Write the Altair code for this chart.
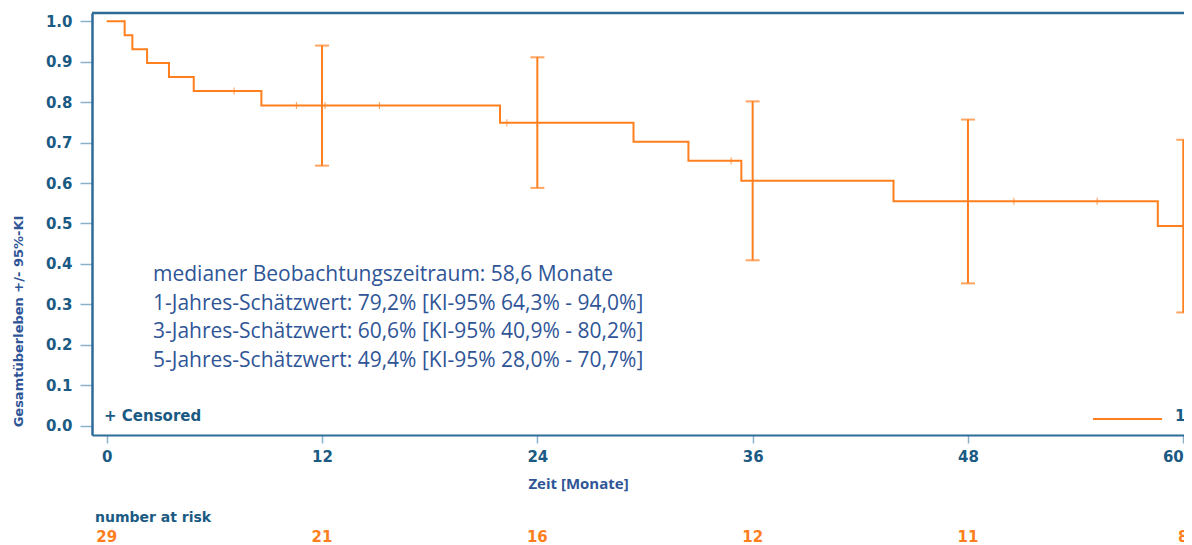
import altair as alt
import pandas as pd

# ---- data ----
step_t = [0, 1.0, 1.43, 2.25, 3.47, 4.85, 8.62, 21.92, 29.36, 32.42, 35.37, 43.85, 58.58, 60.5]
step_s = [1.0, 0.9655, 0.931, 0.8966, 0.8621, 0.8276, 0.7916, 0.749, 0.702, 0.655, 0.606, 0.555, 0.494, 0.494]

cens_t = [7.1, 10.57, 12.17, 15.2, 22.3, 24.0, 34.8, 50.56, 55.2]
cens_s = [0.8276, 0.7916, 0.7916, 0.7916, 0.749, 0.749, 0.655, 0.555, 0.555]

ci_t = [12, 24, 36, 48, 60]
ci_lo = [0.643, 0.588, 0.409, 0.352, 0.280]
ci_hi = [0.940, 0.911, 0.802, 0.757, 0.707]

risk_t = [0, 12, 24, 36, 48, 60]
risk_n = ["29", "21", "16", "12", "11", "8"]

x_ticks = [0, 12, 24, 36, 48, 60]
y_ticks = [0.0, 0.1, 0.2, 0.3, 0.4, 0.5, 0.6, 0.7, 0.8, 0.9, 1.0]

notes = [
    "medianer Beobachtungszeitraum: 58,6 Monate",
    "1-Jahres-Schätzwert: 79,2% [KI-95% 64,3% - 94,0%]",
    "3-Jahres-Schätzwert: 60,6% [KI-95% 40,9% - 80,2%]",
    "5-Jahres-Schätzwert: 49,4% [KI-95% 28,0% - 70,7%]",
]

ORANGE = "#ff7f1e"
AXIS_BLUE = "#1a5a83"
TITLE_BLUE = "#2f5597"
LINE_BLUE = "#2e6b97"
TICK_BLUE = "#8ab0cc"

W, H = 1092, 422

xscale = alt.Scale(domain=[-0.82, 60.04], nice=False, zero=False)
yscale = alt.Scale(domain=[-0.023, 1.0205], nice=False, zero=False)

step_df = pd.DataFrame({"t": step_t, "s": step_s})
cens_df = pd.DataFrame({"t": cens_t, "s": cens_s})
ci_df = pd.DataFrame({"t": ci_t, "lo": ci_lo, "hi": ci_hi})
risk_df = pd.DataFrame({"t": risk_t, "n": risk_n})
one = pd.DataFrame({"a": [0]})

xaxis = alt.Axis(
    values=x_ticks, title="Zeit [Monate]", grid=False,
    labelFont="DejaVu Sans", labelFontSize=15, labelFontWeight="bold", labelColor=AXIS_BLUE,
    labelPadding=6, tickSize=8, tickColor=TICK_BLUE, tickWidth=1.5,
    domainColor=LINE_BLUE, domainWidth=2,
    titleFont="Open Sans", titleFontSize=15, titleFontWeight="bold", titleColor=TITLE_BLUE,
    titleX=486, titleY=53, titleAlign="center", titleBaseline="alphabetic", titleAnchor="start",
)
yaxis = alt.Axis(
    values=y_ticks, format=".1f", title="Gesamtüberleben +/- 95%-KI", grid=False,
    labelFont="DejaVu Sans", labelFontSize=15, labelFontWeight="bold", labelColor=AXIS_BLUE,
    labelPadding=8, tickSize=12, tickColor=TICK_BLUE, tickWidth=1.5,
    domainColor=LINE_BLUE, domainWidth=2.5,
    titleFont="DejaVu Sans", titleFontSize=13, titleFontWeight="bold", titleColor=TITLE_BLUE,
    titleAngle=270, titleX=-74, titleY=308, titleAlign="center", titleBaseline="middle",
    titleAnchor="start",
)

km = alt.Chart(step_df).mark_line(
    interpolate="step-after", color=ORANGE, strokeWidth=2, clip=True
).encode(x=alt.X("t:Q", scale=xscale, axis=xaxis), y=alt.Y("s:Q", scale=yscale, axis=yaxis))

cens = alt.Chart(cens_df).mark_tick(
    orient="vertical", color=ORANGE, size=7, thickness=1, opacity=0.8
).encode(x=alt.X("t:Q", scale=xscale), y=alt.Y("s:Q", scale=yscale))

ci_rule = alt.Chart(ci_df).mark_rule(color=ORANGE, strokeWidth=2).encode(
    x=alt.X("t:Q", scale=xscale), y=alt.Y("lo:Q", scale=yscale), y2="hi:Q"
)
cap_lo = alt.Chart(ci_df).mark_tick(orient="horizontal", color=ORANGE, size=14, thickness=2).encode(
    x=alt.X("t:Q", scale=xscale), y=alt.Y("lo:Q", scale=yscale)
)
cap_hi = alt.Chart(ci_df).mark_tick(orient="horizontal", color=ORANGE, size=14, thickness=2).encode(
    x=alt.X("t:Q", scale=xscale), y=alt.Y("hi:Q", scale=yscale)
)

top_border = alt.Chart(one).mark_rule(color=LINE_BLUE, strokeWidth=2.5).encode(
    x=alt.value(0), x2=alt.value(W), y=alt.value(0)
)

note_text = alt.Chart(one).mark_text(
    align="left", baseline="alphabetic", font="Open Sans", fontSize=21, color=TITLE_BLUE,
    lineHeight=28.7,
).encode(x=alt.value(61), y=alt.value(268), text=alt.value(notes))

risk_text = alt.Chart(risk_df).mark_text(
    align="center", baseline="alphabetic", font="DejaVu Sans", fontSize=15, fontWeight="bold", color=ORANGE
).encode(x=alt.X("t:Q", scale=xscale), y=alt.value(529), text="n:N")

risk_label = alt.Chart(one).mark_text(
    align="left", baseline="alphabetic", font="DejaVu Sans", fontSize=14, fontWeight="bold", color=AXIS_BLUE
).encode(x=alt.value(3), y=alt.value(509), text=alt.value("number at risk"))

cens_label = alt.Chart(one).mark_text(
    align="left", baseline="alphabetic", font="DejaVu Sans", fontSize=15, fontWeight="bold", color=AXIS_BLUE
).encode(x=alt.value(12), y=alt.value(408), text=alt.value("+ Censored"))

legend_line = alt.Chart(one).mark_rule(color=ORANGE, strokeWidth=2).encode(
    x=alt.value(1001), x2=alt.value(1070), y=alt.value(406)
)
legend_label = alt.Chart(one).mark_text(
    align="left", baseline="alphabetic", font="DejaVu Sans", fontSize=15, fontWeight="bold", color=AXIS_BLUE
).encode(x=alt.value(1083), y=alt.value(408), text=alt.value("1"))

chart = alt.layer(
    km, cens, ci_rule, cap_lo, cap_hi, top_border, note_text,
    risk_text, risk_label, cens_label, legend_line, legend_label,
).properties(
    width=W, height=H,
    autosize=alt.AutoSizeParams(type="none"),
    padding={"left": 84, "top": 5, "right": 0, "bottom": 110},
    background="white",
).configure_view(strokeWidth=0)

chart.save("out.html", embed_options={"renderer": "svg", "actions": False})
